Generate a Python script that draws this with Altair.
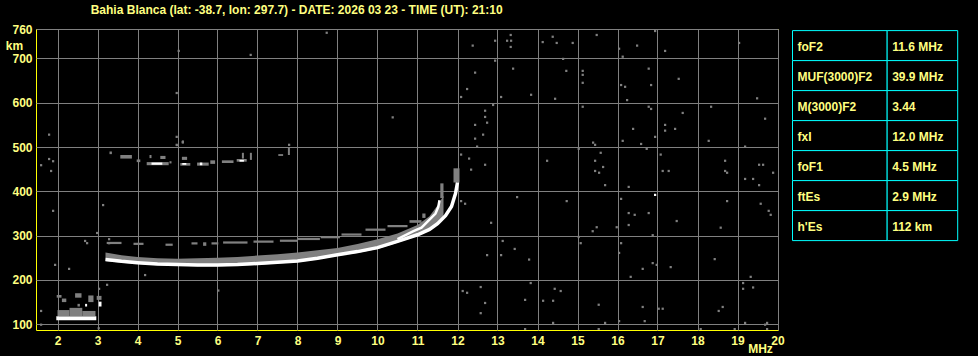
import altair as alt
import pandas as pd

# ---------------- texts / axes ----------------
TITLE = "Bahia Blanca (lat: -38.7, lon: 297.7) - DATE: 2026 03 23 - TIME (UT): 21:10"
FREQ_TICKS = list(range(2, 21))
HEIGHT_TICKS = [100, 200, 300, 400, 500, 600, 700, 766.5]   # top of frame is labelled 760
F_DOMAIN = [1.4625, 20.0125]
H_DOMAIN = [87, 766.5]

PARAM_NAMES = ["foF2", "MUF(3000)F2", "M(3000)F2", "fxI", "foF1", "ftEs", "h'Es"]
PARAM_VALUES = ["11.6 MHz", "39.9 MHz", "3.44", "12.0 MHz", "4.5 MHz", "2.9 MHz", "112 km"]

# ---------------- ionogram traces ----------------
# strong (white) F trace
main_f = [3.2, 3.6, 4.0, 4.5, 5.0, 5.5, 6.0, 6.5, 7.0, 7.5, 8.0, 8.5, 9.0, 9.5,
          10.0, 10.5, 11.0, 11.3, 11.5, 11.7, 11.85, 11.95, 12.0]
main_h = [246, 242, 239, 236, 235, 234, 234, 235, 237, 240, 243, 249, 257, 264,
          273, 287, 302, 314, 327, 345, 366, 395, 420]
# second white branch near the cusp
branch_f = [10.5, 10.9, 11.1, 11.3, 11.45, 11.52, 11.55]
branch_h = [292, 310, 318, 336, 350, 365, 380]
# weak (gray) spread around the F trace
spread_f = [3.2, 3.6, 4.0, 4.5, 5.0, 5.5, 6.0, 6.5, 7.0, 7.5, 8.0, 8.5, 9.0, 9.5,
            10.0, 10.5, 11.0, 11.3, 11.5, 11.65]
spread_lo = [243, 239, 236, 233, 232, 231, 231, 232, 234, 237, 240, 246, 254, 261,
             270, 284, 299, 311, 324, 340]
spread_hi = [262, 256, 252, 249, 248, 249, 250, 252, 255, 258, 262, 267, 272, 281,
             292, 305, 324, 344, 368, 390]

# echo patches: frequency from-to (MHz), height from-to (km), tone
echo_f0 = [1.97, 2.00, 2.30, 2.62, 2.69, 3.03, 1.98, 2.11, 2.44, 2.77, 2.98, 2.50,
           11.57, 11.90, 11.12,
           3.23, 3.90, 4.70, 5.35, 5.64, 5.85, 6.14, 6.90, 7.56, 8.00, 8.58, 9.10, 9.70, 10.25, 10.80,
           3.30, 3.57, 3.98, 4.30, 4.23, 4.35, 4.57, 4.80, 5.07, 5.12, 5.11, 5.49, 5.56, 5.82,
           6.11, 6.48, 6.55, 6.61, 6.81, 7.52, 7.76, 4.96, 5.11]
echo_f1 = [2.97, 2.30, 2.62, 2.95, 2.74, 3.10, 2.10, 2.22, 2.60, 2.90, 3.10, 2.56,
           11.65, 12.05, 11.20,
           3.60, 4.15, 4.88, 5.50, 5.72, 6.02, 6.75, 7.40, 8.00, 8.56, 9.06, 9.60, 10.20, 10.75, 11.10,
           3.36, 3.86, 4.07, 4.35, 4.78, 4.62, 4.70, 4.85, 5.32, 5.22, 5.24, 5.78, 5.62, 5.94,
           6.40, 6.73, 6.66, 6.66, 6.86, 7.64, 7.81, 5.01, 5.16]
echo_h0 = [109, 118, 118, 118, 140, 140, 160, 150, 160, 150, 155, 140,
           385, 420, 340,
           281, 279, 277, 280, 277, 280, 282, 284, 286, 290, 294, 300, 311, 319, 329,
           484, 474, 466, 475, 459, 460, 473, 463, 458, 460, 471, 458, 459, 462,
           464, 467, 467, 474, 471, 480, 482, 502, 508]
echo_h1 = [118, 132, 137, 130, 146, 151, 166, 158, 170, 165, 164, 146,
           418, 452, 350,
           286, 284, 282, 285, 285, 285, 287, 289, 291, 295, 299, 305, 316, 324, 335,
           490, 482, 472, 482, 466, 465, 480, 468, 464, 464, 478, 465, 465, 470,
           470, 473, 471, 487, 487, 484, 500, 506, 515]
echo_tone = ["w", "g", "g", "g", "w", "w", "g", "g", "g", "g", "g", "g",
             "g", "g", "g",
             "g", "g", "g", "g", "g", "g", "g", "g", "g", "g", "g", "g", "g", "g", "g",
             "g", "g", "g", "g", "g", "w", "g", "g", "g", "w", "g", "g", "w", "g",
             "g", "g", "w", "g", "g", "g", "g", "g", "g"]

# scattered noise dots (MHz, km)
noise_f = [1.79, 1.59, 1.79, 1.89, 1.84, 1.89, 3.14, 2.99, 2.69, 2.74, 3.29, 3.29, 1.94, 2.29,
           3.24, 1.59, 1.59, 3.04, 4.19, 6.02, 5.03, 6.83, 8.73, 4.98, 10.38, 4.98, 5.13, 4.98,
           7.79, 3.03,
           12.38, 12.94, 13.33, 13.24, 13.34, 13.33, 14.13, 14.38, 14.48, 14.88, 15.48, 16.04,
           16.13, 16.49, 16.94, 17.19, 19.04, 12.94, 12.44, 12.24, 12.09, 13.39, 13.09, 13.84,
           14.44, 14.64, 14.72, 15.13, 15.13, 15.13, 16.09, 16.19, 16.78, 16.84, 16.24, 17.53,
           19.49, 12.89, 12.69, 12.69, 12.74, 12.44, 12.64, 12.44, 12.49, 15.13, 16.78, 16.84,
           17.63, 18.34, 19.69, 16.39, 17.19, 17.19, 17.44, 16.94, 16.13, 16.59, 18.28, 15.39,
           15.44, 15.03, 15.58, 16.73, 17.08, 19.19, 12.09, 12.29, 12.69, 12.34, 15.44, 15.64,
           15.44, 15.54, 14.24, 17.13, 17.28, 18.69, 18.69, 18.74, 19.54, 19.64, 19.89,
           15.69, 16.28, 19.19, 19.39, 19.54, 13.49, 14.73, 16.09, 18.74, 19.58, 19.78, 19.83,
           12.09, 12.19, 16.28, 16.43, 16.78, 12.84, 15.48, 15.38, 15.98, 16.28, 17.48, 18.58,
           16.88, 15.03, 15.08, 13.13, 13.43, 12.74, 13.09, 13.79, 16.09, 16.04, 16.63, 16.88,
           16.98, 17.33, 16.33, 18.43, 19.33, 19.14, 19.14, 19.39, 13.83, 12.13, 12.24, 12.58,
           14.43, 14.58, 12.69, 13.69, 14.14, 14.39, 12.58, 15.53, 16.63, 17.03, 17.13, 18.63,
           18.53, 14.39, 15.69, 16.04, 16.68, 19.19, 19.74, 19.69, 13.69, 15.53, 18.08, 18.93,
           19.74, 16.94]
noise_h = [528, 459, 473, 468, 446, 356, 369, 306, 288, 283, 292, 283, 234, 225,
           189, 130, 99, 180, 211, 176, 717, 708, 758, 622, 567, 523, 511, 505,
           505, 91,
           729, 740, 753, 740, 740, 726, 737, 749, 735, 735, 753, 722,
           704, 729, 762, 717, 735, 695, 668, 631, 613, 677, 613, 618,
           609, 699, 672, 672, 663, 645, 640, 636, 677, 640, 606, 654,
           610, 595, 582, 568, 555, 550, 528, 519, 501, 591, 591, 586,
           577, 591, 564, 541, 550, 537, 541, 523, 514, 507, 514, 510,
           505, 496, 487, 496, 483, 501, 483, 474, 460, 449, 469, 455,
           446, 442, 469, 446, 446, 469, 446, 442, 460, 460, 442,
           414, 410, 428, 428, 414, 387, 378, 383, 378, 372, 356, 347,
           378, 372, 351, 347, 351, 329, 319, 310, 319, 324, 333, 318,
           301, 297, 283, 288, 270, 256, 256, 246, 283, 261, 225, 238,
           234, 229, 207, 247, 207, 193, 180, 183, 193, 175, 171, 184,
           180, 175, 148, 155, 153, 153, 125, 144, 139, 135, 135, 139,
           130, 103, 103, 107, 107, 103, 103, 99, 89, 89, 89, 89,
           89, 392]
noise_tone = ["g"] * (len(noise_f) - 1) + ["w"]

# ---------------- styling ----------------
BG = "#000000"
TXT = "#ffff80"
FRAME = "#ffff00"
GRID = "#808080"
CYAN = "#00ffff"
FONT = "Liberation Sans"

W, H = 742, 301

xs = alt.Scale(domain=F_DOMAIN, nice=False, zero=False)
ys = alt.Scale(domain=H_DOMAIN, nice=False, zero=False)
tone_color = alt.Color("tone:N", scale=alt.Scale(domain=["g", "w"], range=[GRID, "#ffffff"]), legend=None)

x_axis = alt.Axis(values=FREQ_TICKS, title="MHz", titleX=724, titleY=18, titleAlign="center",
                  titleBaseline="middle", labelPadding=5, labelFlush=False, labelOverlap=False)
y_axis = alt.Axis(values=HEIGHT_TICKS, title="km", titleAngle=0, titleX=-22, titleY=16,
                  titleAlign="center", titleBaseline="middle", labelPadding=4,
                  labelFlush=False, labelOverlap=False,
                  labelExpr="datum.value > 750 ? '760' : datum.label")

spread_df = pd.DataFrame({"f": spread_f, "lo": spread_lo, "hi": spread_hi})
main_df = pd.DataFrame({"f": main_f, "h": main_h})
branch_df = pd.DataFrame({"f": branch_f, "h": branch_h})
echo_df = pd.DataFrame({"f0": echo_f0, "f1": echo_f1, "h0": echo_h0, "h1": echo_h1, "tone": echo_tone})
noise_df = pd.DataFrame({"f": noise_f, "h": noise_h, "tone": noise_tone})

spread = alt.Chart(spread_df).mark_area(color=GRID, opacity=1, clip=True).encode(
    x=alt.X("f:Q", scale=xs, axis=x_axis),
    y=alt.Y("lo:Q", scale=ys, axis=y_axis),
    y2="hi:Q",
)
echoes = alt.Chart(echo_df).mark_rect(clip=True).encode(
    x=alt.X("f0:Q", scale=xs), x2="f1:Q",
    y=alt.Y("h0:Q", scale=ys), y2="h1:Q",
    color=tone_color,
)
main_line = alt.Chart(main_df).mark_line(color="#ffffff", strokeWidth=3.5, clip=True).encode(
    x=alt.X("f:Q", scale=xs), y=alt.Y("h:Q", scale=ys), order="f:Q"
)
branch_line = alt.Chart(branch_df).mark_line(color="#ffffff", strokeWidth=2.5, clip=True).encode(
    x=alt.X("f:Q", scale=xs), y=alt.Y("h:Q", scale=ys), order="f:Q"
)
noise = alt.Chart(noise_df).mark_square(size=5, opacity=1, clip=True).encode(
    x=alt.X("f:Q", scale=xs), y=alt.Y("h:Q", scale=ys), color=tone_color
)

ionogram = alt.layer(spread, echoes, main_line, branch_line, noise)

# ---------------- parameter table ----------------
SPLIT = 0.573
rows = list(range(len(PARAM_NAMES)))
cells_df = pd.DataFrame({
    "c0": [0.0] * len(rows) + [SPLIT] * len(rows),
    "c1": [SPLIT] * len(rows) + [1.0] * len(rows),
    "r0": rows + rows,
    "r1": [r + 1 for r in rows] * 2,
})
text_df = pd.DataFrame({
    "tx": [0.0] * len(rows) + [SPLIT] * len(rows),
    "ym": [r + 0.5 for r in rows] * 2,
    "txt": PARAM_NAMES + PARAM_VALUES,
})
tx_scale = alt.Scale(domain=[0, 1], range=[756.5, 921.7], nice=False, zero=False)
ty_scale = alt.Scale(domain=[0, 7], range=[1.6, 211.6], nice=False, zero=False)

cells = alt.Chart(cells_df).mark_rect(fill=BG, stroke=CYAN, strokeWidth=1).encode(
    x=alt.X("c0:Q", scale=tx_scale, axis=None), x2="c1:Q",
    y=alt.Y("r0:Q", scale=ty_scale, axis=None), y2="r1:Q",
)
texts = alt.Chart(text_df).mark_text(align="left", baseline="middle", dx=5, dy=1,
                                     font=FONT, fontSize=12, fontWeight="bold", color=TXT).encode(
    x=alt.X("tx:Q", scale=tx_scale, axis=None),
    y=alt.Y("ym:Q", scale=ty_scale, axis=None),
    text="txt:N",
)
table = alt.layer(cells, texts)

chart = alt.layer(ionogram, table).resolve_scale(x="independent", y="independent").properties(
    width=W, height=H,
    title=alt.TitleParams(TITLE, anchor="start", frame="group", dx=54.7, offset=6,
                          font=FONT, fontSize=12, fontWeight="bold", color=TXT),
    background=BG,
    padding={"left": 36, "top": 29, "right": 978 - 36 - W, "bottom": 356 - 29 - H},
    autosize=alt.AutoSizeParams(type="none"),
).configure_view(
    stroke=FRAME, strokeWidth=1, fill=BG
).configure_axis(
    grid=True, gridColor=GRID, gridWidth=1, gridOpacity=1,
    domain=False, ticks=False, tickSize=0,
    labelColor=TXT, labelFont=FONT, labelFontSize=12, labelFontWeight="bold",
    titleColor=TXT, titleFont=FONT, titleFontSize=12, titleFontWeight="bold",
)

chart.save("out.html", embed_options={"renderer": "svg", "actions": False})
